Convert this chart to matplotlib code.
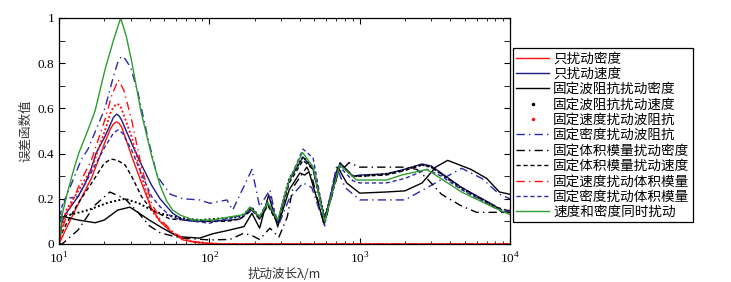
import matplotlib
matplotlib.use('Agg')
import matplotlib.pyplot as plt
import matplotlib.lines as mlines
from matplotlib.ticker import FixedLocator, NullFormatter

plt.rcParams['font.family'] = ['Noto Sans CJK SC', 'DejaVu Sans']
plt.rcParams['mathtext.fontset'] = 'custom'
plt.rcParams['mathtext.rm'] = 'Liberation Serif'

# 只扰动密度
lam_rho = [10, 10.5, 11.2, 13.5, 16.4, 18.5, 20.2, 22, 23, 24, 25, 26, 28, 30.4, 35.4, 41, 47, 57, 67, 80, 96, 120, 1000, 10000]
val_rho = [0, 0.03, 0.07, 0.18, 0.29, 0.38, 0.45, 0.51, 0.53, 0.54, 0.535, 0.52, 0.46, 0.39, 0.27, 0.16, 0.1, 0.048, 0.018, 0.008, 0.003, 0, 0, 0]

# 只扰动速度
lam_vel = [10, 10.5, 11, 13.4, 15, 16.5, 17.6, 20.2, 22, 23, 24.2, 25.2, 26, 30.4, 35.4, 41.3, 47, 57, 67, 80, 100, 130, 160, 192, 216,
           245, 285, 340, 420, 490, 585, 740, 900, 1000, 1500, 1900, 2600, 3000, 4760, 7900, 9000, 10000]
val_vel = [0, 0.1, 0.13, 0.21, 0.27, 0.34, 0.4, 0.475, 0.53, 0.56, 0.575, 0.565, 0.55, 0.446, 0.35, 0.26, 0.2, 0.136, 0.106, 0.1, 0.1, 0.105,
           0.11, 0.16, 0.11, 0.18, 0.095, 0.28, 0.385, 0.33, 0.11, 0.36, 0.3, 0.305, 0.31, 0.327, 0.354, 0.345, 0.25, 0.17, 0.14, 0.15]

# 固定波阻抗扰动密度
lam_zrho = [10, 10.9, 13.4, 17.4, 20, 24.6, 29.6, 33.5, 40, 47, 57, 64, 86, 105, 137, 170, 192, 216, 248, 285, 340, 400, 430,
            460, 580, 715, 820, 1000, 1500, 2000, 2600, 3200, 3850, 5500, 7000, 8500, 10000]
val_zrho = [0.12, 0.12, 0.106, 0.094, 0.106, 0.15, 0.163, 0.14, 0.105, 0.077, 0.045, 0.032, 0.026, 0.045, 0.062, 0.077, 0.136,
            0.07, 0.217, 0.077, 0.24, 0.314, 0.305, 0.32, 0.09, 0.34, 0.27, 0.225, 0.23, 0.235, 0.27, 0.34, 0.37, 0.33, 0.29, 0.23, 0.22]

# 固定波阻抗扰动速度
lam_zvel = [10, 10.5, 12, 15.6, 21.2, 27.5, 34, 40, 47, 64, 86, 105, 130, 160, 192, 216, 245, 285, 340, 420, 490, 585, 740,
            900, 1000, 1500, 1900, 2600, 3000, 4760, 7900, 9000, 10000]
val_zvel = [0.1, 0.12, 0.13, 0.15, 0.183, 0.2, 0.18, 0.155, 0.136, 0.115, 0.106, 0.11, 0.115, 0.12, 0.16, 0.12, 0.18, 0.1, 0.29,
            0.385, 0.34, 0.115, 0.355, 0.3, 0.3, 0.31, 0.325, 0.35, 0.34, 0.245, 0.165, 0.14, 0.145]

# 固定速度扰动波阻抗
lam_vz = [10, 10.5, 11.2, 13, 16.4, 20.2, 22, 23, 24.2, 25.3, 26, 30.4, 35.4, 41.3, 47, 57, 67, 80, 100, 120, 10000]
val_vz = [0, 0.08, 0.15, 0.22, 0.33, 0.5, 0.58, 0.605, 0.62, 0.615, 0.6, 0.475, 0.3, 0.15, 0.1, 0.05, 0.02, 0.008, 0.002, 0, 0]

# 固定密度扰动波阻抗
lam_rz = [10, 10.5, 11, 12, 14, 15.6, 20.2, 23, 24.5, 26, 27.5, 30, 33.5, 39, 45, 55, 67, 86, 101, 131, 143, 192, 216, 253, 285, 340, 420,
          480, 585, 700, 800, 1000, 2000, 3000, 4760, 6500, 8500, 10000]
val_rz = [0.1, 0.13, 0.2, 0.26, 0.37, 0.42, 0.6, 0.74, 0.8, 0.83, 0.82, 0.78, 0.67, 0.47, 0.3, 0.22, 0.2, 0.195, 0.18, 0.195, 0.15, 0.33,
          0.165, 0.24, 0.075, 0.2, 0.27, 0.25, 0.08, 0.34, 0.25, 0.195, 0.195, 0.26, 0.335, 0.29, 0.22, 0.2]

# 固定体积模量扰动密度
lam_krho = [10, 10.5, 13.4, 17.4, 21.8, 27.5, 33.5, 40, 47, 57, 67, 100, 137, 170, 195, 216, 253, 290, 330, 360, 445, 480,
            580, 715, 850, 1000, 2000, 2400, 2800, 3500, 4700, 6000, 10000]
val_krho = [0, 0, 0.062, 0.173, 0.23, 0.2, 0.14, 0.08, 0.05, 0.035, 0.026, 0.018, 0.02, 0.048, 0.035, 0.02, 0.07, 0.03, 0.12,
            0.25, 0.34, 0.3, 0.085, 0.31, 0.36, 0.34, 0.34, 0.33, 0.29, 0.22, 0.17, 0.14, 0.14]

# 固定体积模量扰动速度
lam_kvel = [10, 11.2, 13.4, 16.5, 20, 22.2, 24.5, 27.5, 30.4, 35.4, 41.3, 55, 80, 100, 130, 160, 192, 216, 245, 285, 340, 420, 490,
            585, 740, 900, 1000, 1500, 2000, 2600, 3000, 4760, 7900, 10000]
val_kvel = [0.02, 0.09, 0.18, 0.27, 0.357, 0.376, 0.37, 0.35, 0.3, 0.21, 0.15, 0.11, 0.105, 0.1, 0.1, 0.11, 0.15, 0.11, 0.17, 0.09,
            0.27, 0.37, 0.33, 0.1, 0.35, 0.3, 0.3, 0.305, 0.325, 0.35, 0.34, 0.25, 0.165, 0.145]

# 固定速度扰动体积模量
lam_vk = [10, 10.9, 12, 14, 16.4, 20.2, 22.5, 24.8, 27, 30.4, 35.4, 41.3, 47, 57, 67, 80, 100, 120, 10000]
val_vk = [0, 0.1, 0.17, 0.28, 0.37, 0.55, 0.66, 0.726, 0.68, 0.55, 0.34, 0.18, 0.11, 0.055, 0.025, 0.01, 0.003, 0, 0]

# 固定密度扰动体积模量
lam_rk = [10, 10.5, 11, 13.4, 16.5, 20.2, 23, 24.7, 26.5, 30.4, 35.4, 41.3, 47, 57, 80, 100, 137, 170, 192, 216, 253, 285, 340, 420, 490,
          585, 680, 740, 900, 1000, 1500, 2000, 2800, 3500, 4760, 7900, 10000]
val_rk = [0.1, 0.17, 0.2, 0.21, 0.32, 0.43, 0.49, 0.505, 0.49, 0.416, 0.31, 0.21, 0.165, 0.115, 0.1, 0.092, 0.115, 0.128, 0.15, 0.12, 0.21,
          0.1, 0.28, 0.42, 0.38, 0.1, 0.3, 0.34, 0.28, 0.27, 0.27, 0.29, 0.33, 0.3, 0.24, 0.16, 0.14]

# 速度和密度同时扰动
lam_both = [10, 10.5, 11.3, 12.3, 13.5, 15.5, 17.4, 20.2, 23, 25.7, 28, 30.4, 35, 41.3, 47, 52, 57, 64, 78, 105, 137, 170, 186,
            216, 245, 285, 340, 417, 490, 585, 736, 955, 1510, 1900, 2800, 4760, 7900, 10000]
val_both = [0, 0.13, 0.22, 0.31, 0.4, 0.5, 0.59, 0.77, 0.9, 1.0, 0.92, 0.81, 0.59, 0.39, 0.26, 0.19, 0.15, 0.128, 0.106, 0.106,
            0.12, 0.13, 0.164, 0.12, 0.183, 0.106, 0.283, 0.405, 0.34, 0.1, 0.35, 0.283, 0.283, 0.305, 0.33, 0.23, 0.16, 0.13]

labels = ['只扰动密度', '只扰动速度', '固定波阻抗扰动密度', '固定波阻抗扰动速度', '固定速度扰动波阻抗',
          '固定密度扰动波阻抗', '固定体积模量扰动密度', '固定体积模量扰动速度', '固定速度扰动体积模量',
          '固定密度扰动体积模量', '速度和密度同时扰动']

red = '#ff1010'
navy = '#1c1c80'
blue = '#2a2aa8'
green = '#2e9e2e'

fig = plt.figure(figsize=(7.31, 2.82), dpi=100)
ax = fig.add_axes([0.0807, 0.1348, 0.617, 0.8014])

lw = 1.0
ax.plot(lam_rho, val_rho, color=red, lw=lw)
ax.plot(lam_vel, val_vel, color=navy, lw=lw)
ax.plot(lam_zrho, val_zrho, color='black', lw=lw)
ax.plot(lam_zvel, val_zvel, color='black', lw=1.4, ls=(0, (1, 1.2)))
ax.plot(lam_vz, val_vz, color=red, lw=1.4, ls=(0, (1, 1.2)))
ax.plot(lam_rz, val_rz, color=blue, lw=lw, ls=(0, (6, 3, 1, 3)))
ax.plot(lam_krho, val_krho, color='black', lw=lw, ls=(0, (6, 3, 1, 3)))
ax.plot(lam_kvel, val_kvel, color='black', lw=lw, ls=(0, (3, 2)))
ax.plot(lam_vk, val_vk, color=red, lw=lw, ls=(0, (6, 3, 1, 3)))
ax.plot(lam_rk, val_rk, color=blue, lw=lw, ls=(0, (3, 2)))
ax.plot(lam_both, val_both, color=green, lw=lw)

ax.set_xscale('log')
ax.set_xlim(10, 10000)
ax.set_ylim(0, 1)
ax.set_xticks([10, 100, 1000, 10000], ['$10^{1}$', '$10^{2}$', '$10^{3}$', '$10^{4}$'])
ax.set_yticks([0, 0.2, 0.4, 0.6, 0.8, 1], ['0', '0.2', '0.4', '0.6', '0.8', '1'])
ax.yaxis.set_minor_locator(FixedLocator([0.1, 0.3, 0.5, 0.7, 0.9]))
ax.yaxis.set_minor_formatter(NullFormatter())
ax.tick_params(which='both', direction='in', top=True, right=True)
ax.tick_params(which='major', length=4, labelsize=9.5)
ax.tick_params(axis='x', which='major', pad=5)
ax.tick_params(axis='y', which='minor', length=4)
ax.tick_params(axis='x', which='minor', length=2)
for lab in ax.get_xticklabels() + ax.get_yticklabels():
    lab.set_family('Liberation Serif')
for sp in ax.spines.values():
    sp.set_linewidth(0.9)

ax.set_ylabel('误差函数值', fontsize=9, color='#333333', labelpad=4)
ax.set_xlabel('扰动波长λ/m', fontsize=9, color='#333333', labelpad=1)

dot_black = mlines.Line2D([], [], color='black', marker='.', ls='None', markersize=3)
dot_red = mlines.Line2D([], [], color=red, marker='.', ls='None', markersize=3)
handles = ax.get_lines()
handles = [handles[0], handles[1], handles[2], dot_black, dot_red] + list(handles[5:])
leg = fig.legend(handles, labels, loc='upper left', bbox_to_anchor=(0.7018, 0.8298),
                 fontsize=9.8, frameon=True, fancybox=False, edgecolor='black', framealpha=1,
                 handlelength=2.4, handletextpad=0.3, labelspacing=0.1, borderpad=0.25, borderaxespad=0)
leg.get_frame().set_linewidth(0.9)

fig.savefig('out.png', dpi=100)
